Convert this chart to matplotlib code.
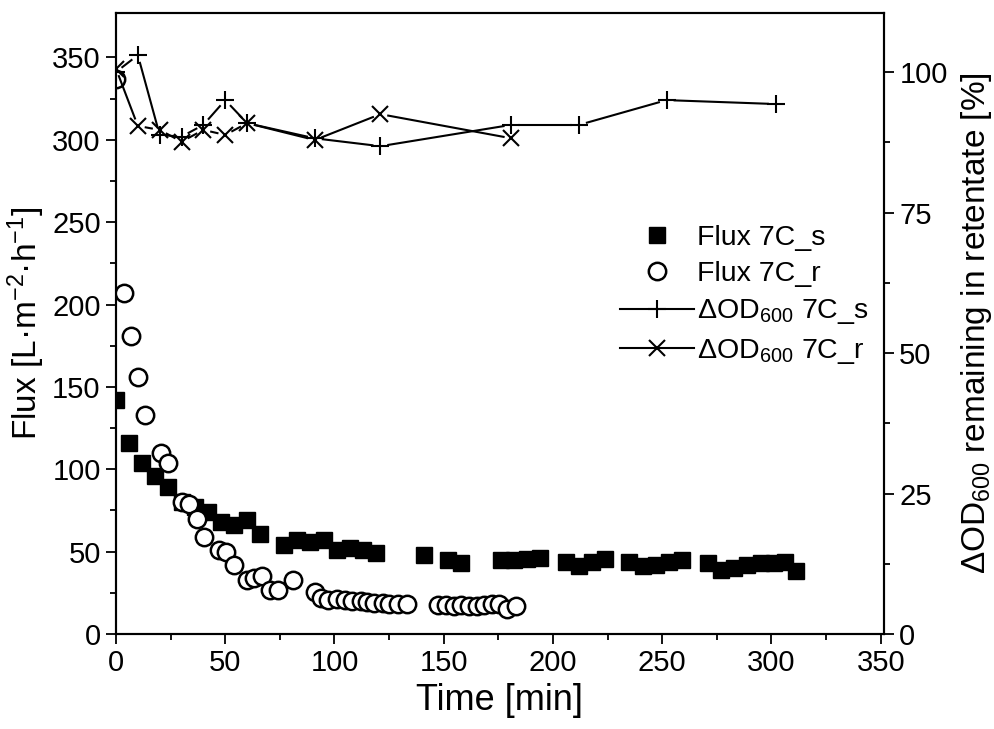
import numpy as np
import matplotlib
matplotlib.use("Agg")
import matplotlib.pyplot as plt
from matplotlib.lines import Line2D

plt.rcParams['font.family'] = ['Liberation Sans', 'DejaVu Sans']
plt.rcParams['mathtext.fontset'] = 'custom'
plt.rcParams['mathtext.rm'] = 'Liberation Sans'
plt.rcParams['mathtext.it'] = 'Liberation Sans:italic'
plt.rcParams['mathtext.bf'] = 'Liberation Sans:bold'

# Flux 7C_s (filled squares)
t_flux_s = [0, 6, 12, 18, 24, 30, 36, 42, 48, 54, 60, 66, 77, 83, 89, 95, 101, 107, 113, 119,
            141, 152, 158, 176, 182, 188, 194, 206, 212, 218, 224, 235, 241, 247, 253, 259,
            271, 277, 283, 289, 295, 301, 306, 311]
flux_s = [142, 116, 104, 96, 89, 80, 77, 74, 68, 66, 69, 61, 54, 57, 56, 57, 51, 52, 51, 49,
          48, 45, 43, 45, 45, 45.5, 46, 44, 41, 44, 45.5, 44, 41, 42, 44, 45,
          43, 39, 40, 42, 43, 43, 44, 38]

# Flux 7C_r (open circles)
t_flux_r = [0, 3.5, 7, 10, 13.5, 20.5, 24, 30, 33.5, 37, 40.5, 47, 50.5, 54, 60, 63, 67, 70.5, 74, 81,
            91, 94, 97, 101, 105, 108, 112, 115, 118, 122, 125, 129, 133,
            147.5, 151, 154.5, 158, 161.5, 165, 168.5, 172, 175.5, 179, 183]
flux_r = [337, 207, 181, 156, 133, 110, 104, 80, 79, 70, 59, 51, 50, 42, 33, 34, 35, 27, 26.5, 33,
          25.5, 22, 20.5, 21, 20.5, 20, 20, 19.5, 19, 19, 18.5, 18.5, 18.5,
          17.6, 17.6, 17, 17.5, 17, 17, 17.5, 18.5, 18, 15, 17]

# delta OD600 remaining in retentate [%]
t_od_s = [0, 10, 20, 30, 40, 50, 60, 91, 121, 181, 212, 252, 302]
od_s = [100, 103, 88.8, 88.5, 90.6, 95, 90.9, 88.2, 86.8, 90.6, 90.6, 95, 94.3]
t_od_r = [0, 10, 20, 30, 40, 50, 60, 91, 121, 181]
od_r = [100.6, 90.4, 89.7, 87.6, 89.7, 88.8, 90.9, 87.9, 92.5, 88.2]

W, H = 994, 729
fig = plt.figure(figsize=(W / 100, H / 100), dpi=100)
ax = fig.add_axes([116 / W, 1 - 634 / H, (884 - 116) / W, (634 - 13) / H])
ax2 = ax.twinx()

ax.set_xlim(0, 351.5)
ax.set_ylim(0, 377)
ax2.set_ylim(0, 110.5)

ax.plot(t_flux_s, flux_s, ls='none', marker='s', ms=11.5, mfc='black', mec='black', zorder=3)
ax.plot(t_flux_r, flux_r, ls='none', marker='o', ms=12.5, mfc='white', mec='black', mew=1.8, zorder=4)


def gapped(a, x, y, gap, **kw):
    # line segments that stop short of the markers, like Origin does
    pts = a.transData.transform(np.column_stack([x, y]))
    inv = a.transData.inverted()
    for p0, p1 in zip(pts[:-1], pts[1:]):
        d = p1 - p0
        L = np.hypot(d[0], d[1])
        if L <= 2 * gap:
            continue
        u = d / L
        q0 = inv.transform(p0 + u * gap)
        q1 = inv.transform(p1 - u * gap)
        a.plot([q0[0], q1[0]], [q0[1], q1[1]], **kw)


gapped(ax2, t_od_s, od_s, 8, color='black', lw=1.5)
gapped(ax2, t_od_r, od_r, 8, color='black', lw=1.5)
ax2.plot(t_od_s, od_s, ls='none', marker='+', ms=13, mew=1.5, color='black')
ax2.plot(t_od_r, od_r, ls='none', marker='x', ms=11, mew=1.5, color='black')

ax.set_xticks(np.arange(0, 351, 50))
ax.set_xticks(np.arange(25, 351, 50), minor=True)
ax.set_yticks(np.arange(0, 351, 50))
ax.set_yticks(np.arange(25, 351, 50), minor=True)
ax2.set_yticks(np.arange(0, 101, 25))
ax2.set_yticks(np.arange(12.5, 101, 25), minor=True)

for a in (ax, ax2):
    for s in a.spines.values():
        s.set_linewidth(1.5)
    a.tick_params(which='major', direction='out', length=7, width=1.3, labelsize=21, pad=4)
    a.tick_params(which='minor', direction='out', length=4.5, width=1.3)
ax.tick_params(top=False, right=False, which='both')
ax2.tick_params(axis='y', left=False, right=True, which='both')

ax.set_xlabel('Time [min]', fontsize=26, labelpad=4)
ax.set_ylabel('Flux [L·m$^{\\mathrm{-2}}$·h$^{\\mathrm{-1}}$]', fontsize=24, labelpad=4)
ax2.set_ylabel('ΔOD$_{\\mathrm{600}}$ remaining in retentate [%]', fontsize=24, labelpad=8)

handles = [
    Line2D([], [], ls='none', marker='s', ms=11.5, mfc='black', mec='black'),
    Line2D([], [], ls='none', marker='o', ms=12.5, mfc='white', mec='black', mew=1.8),
    Line2D([], [], color='black', lw=1.5, marker='+', ms=13, mew=1.5),
    Line2D([], [], color='black', lw=1.5, marker='x', ms=11, mew=1.5),
]
labels = ['Flux 7C_s', 'Flux 7C_r', 'ΔOD$_{\\mathrm{600}}$ 7C_s', 'ΔOD$_{\\mathrm{600}}$ 7C_r']
ax2.legend(handles, labels, loc='upper left', bbox_to_anchor=(620 / W, 1 - 225 / H),
           bbox_transform=fig.transFigure, frameon=False, fontsize=20.5,
           handlelength=2.6, handletextpad=0.1, labelspacing=0.36, borderpad=0, borderaxespad=0)

fig.savefig('out.png', dpi=100)
